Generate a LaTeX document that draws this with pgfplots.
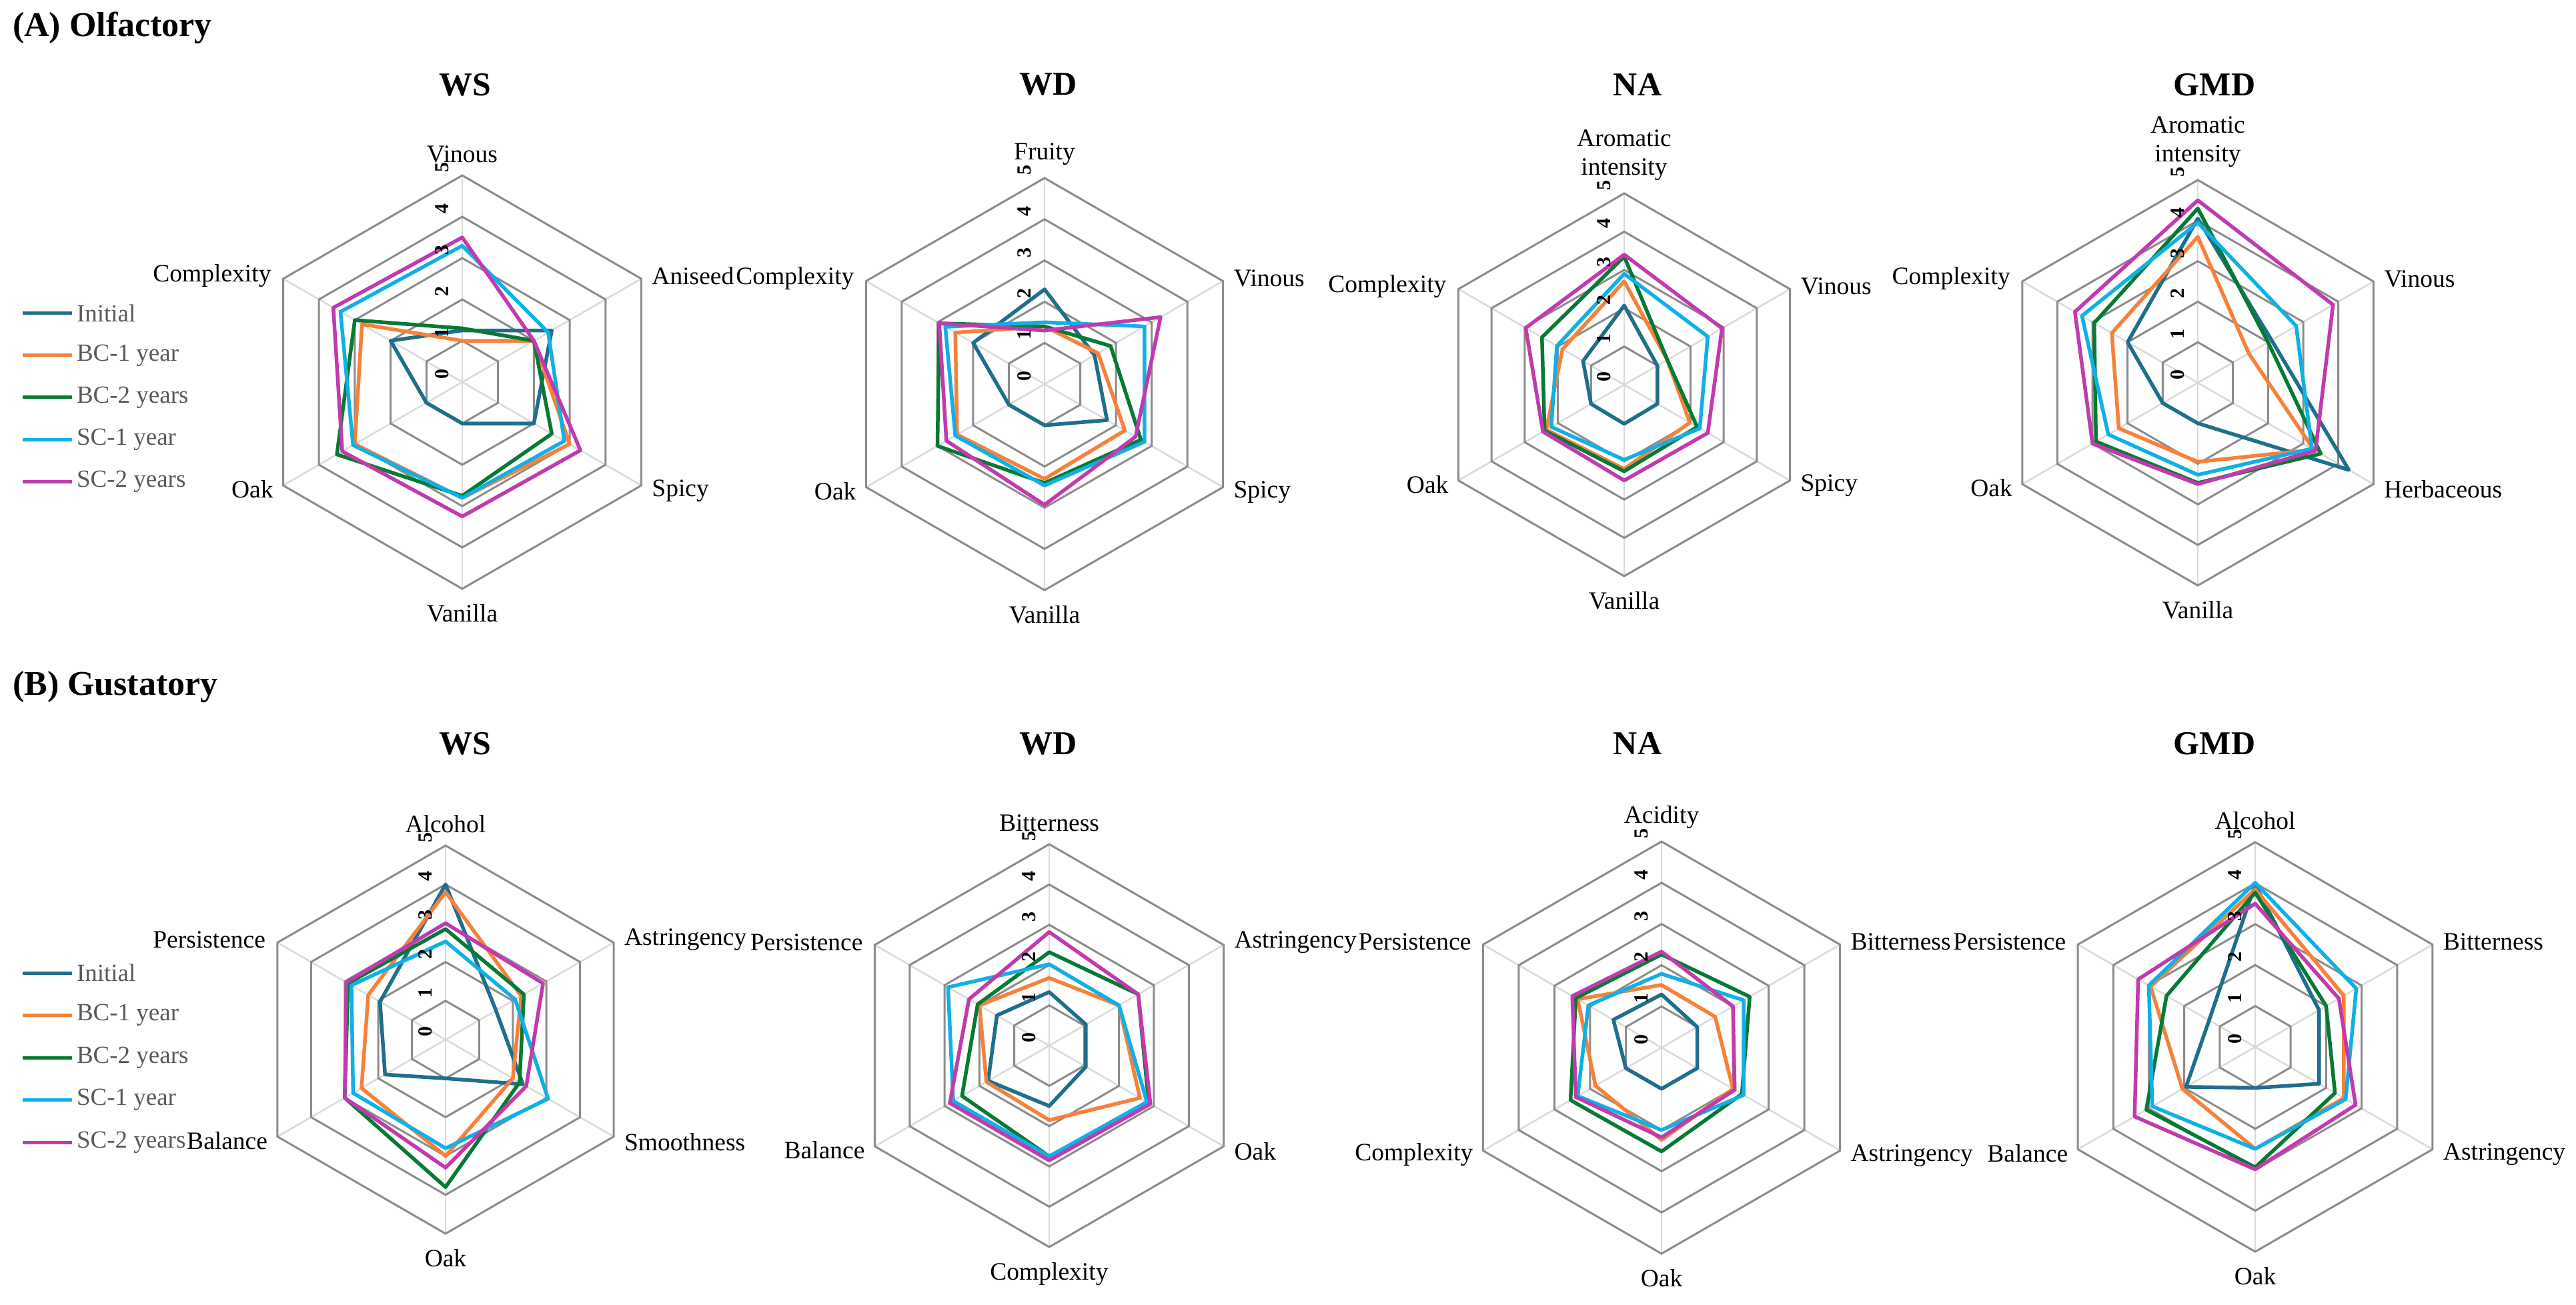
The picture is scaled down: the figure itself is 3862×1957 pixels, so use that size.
\documentclass[border=0pt]{standalone}
\usepackage{fontspec}
\setmainfont{Liberation Serif}
\usepackage{pgfplots}
\pgfplotsset{compat=1.18}
\usepackage{pgfplotstable}

\definecolor{cInit}{HTML}{1F6E8C}
\definecolor{cBC1}{HTML}{F7813A}
\definecolor{cBC2}{HTML}{067A34}
\definecolor{cSC1}{HTML}{10B0E6}
\definecolor{cSC2}{HTML}{C13AAE}
\definecolor{cRing}{HTML}{8C8C8C}
\definecolor{cSpoke}{HTML}{DADADA}
\definecolor{cLeg}{HTML}{595959}

% Olfactory
\pgfplotstableread{
ang Init BC1 BC2 SC1 SC2
90 1.25 1.00 1.30 3.30 3.50
30 2.50 2.00 2.00 2.40 2.00
-30 2.00 3.00 2.50 2.85 3.30
-90 1.00 2.80 2.75 2.80 3.25
-150 1.00 3.00 3.50 3.05 3.35
150 2.00 2.80 3.00 3.40 3.60
}\tWSA
\pgfplotstableread{
ang Init BC1 BC2 SC1 SC2
90 2.30 1.40 1.40 1.50 1.30
30 1.40 1.50 1.85 2.80 3.25
-30 1.75 2.25 2.70 2.80 2.55
-90 1.00 2.30 2.40 2.46 2.93
-150 1.00 2.45 3.00 2.50 2.75
150 2.00 2.50 2.95 2.78 2.95
}\tWDA
\pgfplotstableread{
ang Init BC1 BC2 SC1 SC2
90 2.07 2.70 3.35 2.90 3.40
30 1.00 1.30 1.30 2.52 2.95
-30 1.00 1.98 2.20 2.28 2.52
-90 1.02 2.20 2.26 1.96 2.50
-150 1.00 2.35 2.40 2.20 2.45
150 1.24 1.86 2.48 2.03 2.97
}\tNAA
\pgfplotstableread{
ang Init BC1 BC2 SC1 SC2
90 4.05 3.60 4.30 3.95 4.50
30 2.10 1.45 2.00 2.80 3.85
-30 4.30 3.30 3.50 3.25 3.35
-90 1.00 1.95 2.47 2.27 2.50
-150 1.00 2.25 2.90 2.55 3.00
150 2.00 2.45 2.95 3.30 3.50
}\tGMDA
% Gustatory
\pgfplotstableread{
ang Init BC1 BC2 SC1 SC2
90 4.00 3.80 2.85 2.53 3.00
30 1.50 2.25 2.33 2.07 2.90
-30 2.30 2.00 2.20 3.05 2.40
-90 1.00 3.00 3.80 2.80 3.30
-150 1.80 2.50 3.00 2.75 3.00
150 1.95 2.30 2.90 2.80 2.95
}\tWSB
\pgfplotstableread{
ang Init BC1 BC2 SC1 SC2
90 1.33 1.68 2.32 2.02 2.82
30 1.05 2.00 2.55 2.00 2.55
-30 1.05 2.60 2.85 2.80 2.90
-90 1.50 1.85 2.75 2.75 2.85
-150 1.75 1.80 2.50 2.75 2.85
150 1.50 2.00 2.05 2.90 2.30
}\tWDB
\pgfplotstableread{
ang Init BC1 BC2 SC1 SC2
90 1.29 1.52 2.26 1.79 2.33
30 1.00 1.50 2.47 2.30 2.00
-30 1.00 2.00 2.25 2.30 2.05
-90 1.00 2.24 2.52 2.00 2.18
-150 1.00 1.85 2.55 2.35 2.40
150 1.35 2.35 2.40 2.05 2.50
}\tNAB
\pgfplotstableread{
ang Init BC1 BC2 SC1 SC2
90 3.97 3.85 3.77 4.01 3.50
30 1.80 2.50 2.00 2.85 2.36
-30 1.80 2.50 2.25 2.55 2.83
-90 1.00 2.49 2.94 2.49 2.99
-150 1.95 2.05 3.07 2.90 3.40
150 1.30 2.95 2.50 3.00 3.30
}\tGMDB

\tikzset{
  ser/.style={line width=1.1pt, line join=round},
  lab/.style={font=\fontsize{7.5}{8.6}\selectfont, inner sep=0pt},
  tck/.style={font=\fontsize{6}{7}\selectfont\bfseries, inner sep=0pt},
  ttl/.style={font=\fontsize{10}{12}\selectfont\bfseries, inner sep=0pt},
}

\newcommand{\radar}[4]{%
\begin{axis}[at={(#1*0.2pt,-#2*0.2pt)}, anchor=center, scale only axis, width=#3, height=#3,
  xmin=-5, xmax=5, ymin=-5, ymax=5, hide axis, clip=false]
\pgfplotsinvokeforeach{90,30,-30,-90,-150,150}{%
  \addplot[cSpoke, line width=0.5pt, data cs=polar] coordinates {(##1,0) (##1,5)};}
\pgfplotsinvokeforeach{1,2,3,4,5}{%
  \addplot[cRing, line width=0.6pt, data cs=polar] coordinates {(90,##1) (30,##1) (-30,##1) (-90,##1) (-150,##1) (150,##1)} -- cycle;}
\addplot[cInit, ser, data cs=polar] table[x=ang, y=Init] {#4} -- cycle;
\addplot[cBC1, ser, data cs=polar] table[x=ang, y=BC1] {#4} -- cycle;
\addplot[cBC2, ser, data cs=polar] table[x=ang, y=BC2] {#4} -- cycle;
\addplot[cSC1, ser, data cs=polar] table[x=ang, y=SC1] {#4} -- cycle;
\addplot[cSC2, ser, data cs=polar] table[x=ang, y=SC2] {#4} -- cycle;
\node[lab, anchor=south, align=center, yshift=3.6pt] at (axis cs:0,5) {\Lt};
\node[lab, anchor=west, xshift=3pt, yshift=0.8pt] at (axis cs:4.3301,2.5) {\Lur};
\node[lab, anchor=west, xshift=3pt, yshift=-1.6pt] at (axis cs:4.3301,-2.5) {\Llr};
\node[lab, anchor=north, yshift=-4.4pt] at (axis cs:0,-5) {\Lb};
\node[lab, anchor=east, xshift=-2.8pt, yshift=-1.2pt] at (axis cs:-4.3301,-2.5) {\Lll};
\node[lab, anchor=east, xshift=-3.4pt, yshift=0.8pt] at (axis cs:-4.3301,2.5) {\Lul};
\pgfplotsinvokeforeach{0,1,2,3,4,5}{%
  \node[tck, xshift=-6pt, yshift=2.4pt, rotate=90] at (axis cs:0,##1) {##1};}
\end{axis}}

\begin{document}
\begin{tikzpicture}[x=0.2pt, y=-0.2pt]
\useasboundingbox (0,0) rectangle (3862,1957);

% headers
\node[ttl, anchor=west, font=\fontsize{10.4}{12}\selectfont\bfseries] at (18,42) {(A) Olfactory};
\node[ttl, anchor=west, font=\fontsize{10.4}{12}\selectfont\bfseries] at (18,1030) {(B) Gustatory};
\node[ttl] at (697,127) {WS};
\node[ttl] at (1572,127) {WD};
\node[ttl] at (2455,127) {NA};
\node[ttl] at (3320,127) {GMD};
\node[ttl] at (697,1115) {WS};
\node[ttl] at (1572,1115) {WD};
\node[ttl] at (2455,1115) {NA};
\node[ttl] at (3320,1115) {GMD};

% Olfactory radars
\def\Lt{Vinous}\def\Lur{Aniseed}\def\Llr{Spicy}\def\Lb{Vanilla}\def\Lll{Oak}\def\Lul{Complexity}
\radar{693}{573}{124pt}{\tWSA}
\def\Lt{Fruity}\def\Lur{Vinous}\def\Llr{Spicy}\def\Lb{Vanilla}\def\Lll{Oak}\def\Lul{Complexity}
\radar{1566}{576}{123.6pt}{\tWDA}
\def\Lt{Aromatic\\intensity}\def\Lur{Vinous}\def\Llr{Spicy}\def\Lb{Vanilla}\def\Lll{Oak}\def\Lul{Complexity}
\radar{2435}{577}{114.8pt}{\tNAA}
\def\Lt{Aromatic\\intensity}\def\Lur{Vinous}\def\Llr{Herbaceous}\def\Lb{Vanilla}\def\Lll{Oak}\def\Lul{Complexity}
\radar{3295}{574}{121.6pt}{\tGMDA}

% Gustatory radars
\def\Lt{Alcohol}\def\Lur{Astringency}\def\Llr{Smoothness}\def\Lb{Oak}\def\Lll{Balance}\def\Lul{Persistence}
\radar{668}{1559}{116.4pt}{\tWSB}
\def\Lt{Bitterness}\def\Lur{Astringency}\def\Llr{Oak}\def\Lb{Complexity}\def\Lll{Balance}\def\Lul{Persistence}
\radar{1573}{1568}{120.8pt}{\tWDB}
\def\Lt{Acidity}\def\Lur{Bitterness}\def\Llr{Astringency}\def\Lb{Oak}\def\Lll{Complexity}\def\Lul{Persistence}
\radar{2491}{1571}{123.6pt}{\tNAB}
\def\Lt{Alcohol}\def\Lur{Bitterness}\def\Llr{Astringency}\def\Lb{Oak}\def\Lll{Balance}\def\Lul{Persistence}
\radar{3381}{1570}{122.8pt}{\tGMDB}

% legends
\foreach \yy/\cc/\tt in {470/cInit/Initial, 533/cBC1/BC-1 year, 596/cBC2/BC-2 years, 659/cSC1/SC-1 year, 722/cSC2/SC-2 years,
  1459/cInit/Initial, 1522/cBC1/BC-1 year, 1586/cBC2/BC-2 years, 1649/cSC1/SC-1 year, 1713/cSC2/SC-2 years}{
  \draw[\cc, line width=1pt] (34,\yy) -- (108,\yy);
  \node[anchor=west, inner sep=0pt, text=cLeg, font=\fontsize{7.4}{8.5}\selectfont] at (114,\yy) {\tt};
}
\end{tikzpicture}
\end{document}
